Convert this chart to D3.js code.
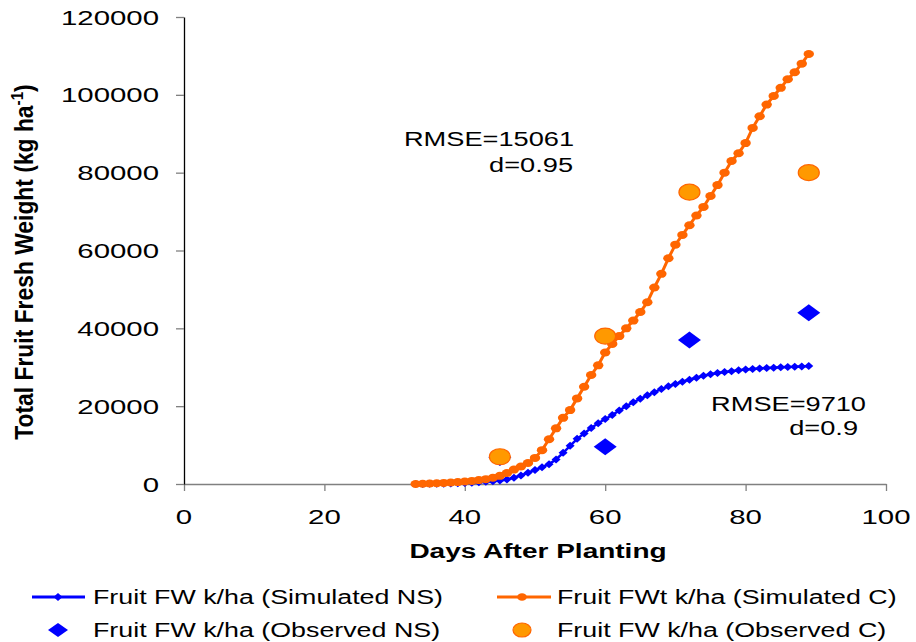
<!DOCTYPE html>
<html><head><meta charset="utf-8">
<script src="https://cdn.jsdelivr.net/npm/d3@7"></script>
<style>
body{margin:0;background:#fff;}
svg{display:block;}
text{font-family:"Liberation Sans",Arial,sans-serif;fill:#000;}
</style>
</head><body>
<svg id="c" width="916" height="642"></svg>
<script>
// ---------- data ----------
const days = [33,34,35,36,37,38,39,40,41,42,43,44,45,46,47,48,49,50,51,52,53,54,55,56,57,58,59,60,61,
  62,63,64,65,66,67,68,69,70,71,72,73,74,75,76,77,78,79,80,81,82,83,84,85,86,87,88,89];
const simNS = [0,20,40,60,90,130,180,250,330,430,550,700,900,1150,1600,2200,2900,3600,4300,5100,6300,8000,
  9800,11600,13000,14400,15600,16700,17700,18900,20000,21000,21900,22800,23600,24400,25100,25700,26300,
  26800,27300,27800,28200,28500,28800,29000,29200,29400,29550,29700,29800,29900,30000,30050,30100,30200,30300];
const simC = [0,60,120,200,280,380,500,650,800,1000,1250,1600,2100,2800,3700,4500,5400,6700,8700,11500,14300,
  17000,19000,22000,25000,28000,30500,33800,36000,38000,40000,42000,44200,46700,50500,54000,58000,61500,
  64000,66500,69000,71200,74000,76800,80000,83000,85000,87600,91500,94500,97500,99700,101800,104000,
  105800,108000,110500];
const obsDays = [45,60,72,89];
const obsNS = [6800,9600,37000,44000];
const obsC = [7000,38000,75000,80000];
const xTicks = [0,20,40,60,80,100];
const yTicks = [0,20000,40000,60000,80000,100000,120000];
const xTitle = "Days After Planting";
const yTitle = "Total Fruit Fresh Weight (kg ha";
const legendLabels = ["Fruit FW k/ha (Simulated NS)","Fruit FWt k/ha (Simulated C)",
  "Fruit FW k/ha (Observed NS)","Fruit FW k/ha (Observed C)"];
const annotC = ["RMSE=15061","d=0.95"];
const annotNS = ["RMSE=9710","d=0.9"];

// ---------- setup ----------
const BLUE = "#0000FF", ORANGE = "#FF6600", OFILL = "#FF9900", GRAY = "#808080";
const SX = 1.4;
const svg = d3.select("#c");
const x = d3.scaleLinear().domain([0,100]).range([184,886]);
const y = d3.scaleLinear().domain([0,120000]).range([484,17]);

function stext(g, tx, ty, str, size, anchor, weight, sx){
  return g.append("text")
    .attr("transform", `translate(${tx},${ty}) scale(${sx||SX},1)`)
    .attr("text-anchor", anchor || "start")
    .attr("font-size", size)
    .attr("font-weight", weight || "normal")
    .text(str);
}

// ---------- axes ----------
const xAxis = svg.append("g").attr("transform", `translate(0,${y(0)})`)
  .call(d3.axisBottom(x).tickValues(xTicks).tickSize(7).tickSizeOuter(0).tickFormat(() => ""));
xAxis.select(".domain").attr("stroke", GRAY).attr("stroke-width", 1.5);
xAxis.selectAll(".tick line").attr("stroke", GRAY).attr("stroke-width", 1.3);

const yAxis = svg.append("g").attr("transform", `translate(${x(0)},0)`)
  .call(d3.axisLeft(y).tickValues(yTicks).tickSize(8).tickSizeOuter(0).tickFormat(() => ""));
yAxis.select(".domain").attr("stroke", "#000").attr("stroke-width", 1.3);
yAxis.selectAll(".tick line").attr("stroke", GRAY).attr("stroke-width", 1.3);

const labels = svg.append("g");
xTicks.forEach(t => stext(labels, x(t), 523.5, String(t), 21, "middle"));
yTicks.forEach(t => stext(labels, 159, y(t) + 7.5, String(t), 21, "end"));

stext(labels, 538, 558, xTitle, 20, "middle", "bold");

const yt = svg.append("text")
  .attr("transform", "translate(33,262) rotate(-90) scale(1.27,1.4)")
  .attr("text-anchor", "middle")
  .attr("font-size", 18)
  .attr("font-weight", "bold");
yt.append("tspan").text(yTitle);
yt.append("tspan").attr("font-size", 12).attr("dy", -7).text("-1");
yt.append("tspan").attr("dy", 7).text(")");

// ---------- series ----------
const simNSData = days.map((d,i) => ({d, v: simNS[i]}));
const simCData = days.map((d,i) => ({d, v: simC[i]}));
const line = d3.line().x(p => x(p.d)).y(p => y(p.v));

function diamond(w, h){ return `M0,${-h/2}L${w/2},0L0,${h/2}L${-w/2},0Z`; }

// Simulated NS
svg.append("path").datum(simNSData).attr("d", line)
  .attr("fill", "none").attr("stroke", BLUE).attr("stroke-width", 2.5);
svg.append("g").selectAll("path").data(simNSData).join("path")
  .attr("transform", p => `translate(${x(p.d)},${y(p.v)})`)
  .attr("d", diamond(9, 8)).attr("fill", BLUE);

// Simulated C
svg.append("path").datum(simCData).attr("d", line)
  .attr("fill", "none").attr("stroke", ORANGE).attr("stroke-width", 3);
svg.append("g").selectAll("ellipse").data(simCData).join("ellipse")
  .attr("cx", p => x(p.d)).attr("cy", p => y(p.v))
  .attr("rx", 5.2).attr("ry", 4).attr("fill", ORANGE);

// Observed NS
svg.append("g").selectAll("path").data(obsDays).join("path")
  .attr("transform", (d,i) => `translate(${x(d)},${y(obsNS[i])})`)
  .attr("d", diamond(23, 17)).attr("fill", BLUE);

// Observed C
svg.append("g").selectAll("ellipse").data(obsDays).join("ellipse")
  .attr("cx", d => x(d)).attr("cy", (d,i) => y(obsC[i]))
  .attr("rx", 10.5).attr("ry", 8).attr("fill", OFILL)
  .attr("stroke", ORANGE).attr("stroke-width", 1.2);

// ---------- annotations ----------
const ann = svg.append("g");
stext(ann, 574, 146, annotC[0], 20, "end", "normal", 1.36);
stext(ann, 573, 172, annotC[1], 20, "end", "normal", 1.36);
stext(ann, 866, 411, annotNS[0], 20, "end", "normal", 1.36);
stext(ann, 858, 435, annotNS[1], 20, "end", "normal", 1.36);

// ---------- legend ----------
const lg = svg.append("g");
const rowY = [597, 630];
const colX = [[32, 85, 58, 93], [497, 551, 522, 557]];
lg.append("line").attr("x1", colX[0][0]).attr("x2", colX[0][1]).attr("y1", rowY[0]).attr("y2", rowY[0])
  .attr("stroke", BLUE).attr("stroke-width", 3);
lg.append("path").attr("transform", `translate(${colX[0][2]},${rowY[0]})`).attr("d", diamond(9, 8)).attr("fill", BLUE);
lg.append("line").attr("x1", colX[1][0]).attr("x2", colX[1][1]).attr("y1", rowY[0]).attr("y2", rowY[0])
  .attr("stroke", ORANGE).attr("stroke-width", 3);
lg.append("ellipse").attr("cx", colX[1][2]).attr("cy", rowY[0]).attr("rx", 4.8).attr("ry", 3.8).attr("fill", ORANGE);
lg.append("path").attr("transform", `translate(${colX[0][2]},${rowY[1]})`).attr("d", diamond(20, 14)).attr("fill", BLUE);
lg.append("ellipse").attr("cx", colX[1][2]).attr("cy", rowY[1]).attr("rx", 9).attr("ry", 7)
  .attr("fill", OFILL).attr("stroke", ORANGE).attr("stroke-width", 1.2);

stext(lg, colX[0][3], 604, legendLabels[0], 19.5, "start", "normal", 1.375);
stext(lg, colX[1][3], 604, legendLabels[1], 19.5, "start", "normal", 1.375);
stext(lg, colX[0][3], 637, legendLabels[2], 19.5, "start", "normal", 1.375);
stext(lg, colX[1][3], 637, legendLabels[3], 19.5, "start", "normal", 1.375);
</script>
</body></html>
